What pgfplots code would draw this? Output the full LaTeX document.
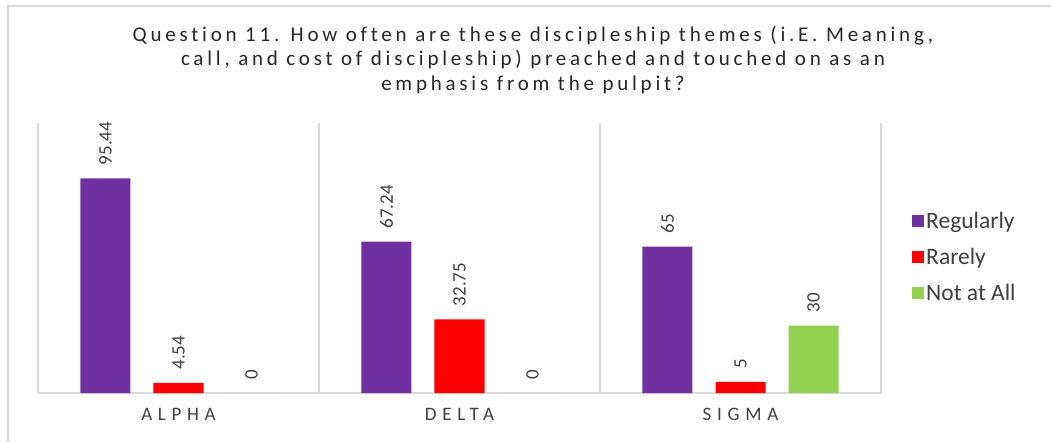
\documentclass[border=0pt]{standalone}
\usepackage{pgfplots}
\pgfplotsset{compat=1.18}
\usepackage{fontspec}
\setmainfont{Carlito}
\newfontfamily\titlefont{Carlito}[LetterSpace=18, Ligatures=NoCommon]
\newfontfamily\catfont{Carlito}[LetterSpace=30]
\definecolor{cpurple}{HTML}{7030A0}
\definecolor{cred}{HTML}{FF0000}
\definecolor{cgreen}{HTML}{92D050}
\definecolor{cgrid}{HTML}{D9D9D9}
\definecolor{ctext}{HTML}{404040}
\definecolor{ctitle}{HTML}{262626}
\pgfplotsset{sqlegend/.style={legend image code/.code={\draw[##1,draw=none] (0pt,-6pt) rectangle (12pt,6pt);}}}
\begin{document}
\begin{tikzpicture}[x=1pt,y=1pt]
\useasboundingbox (0,0) rectangle (1051,442);
\draw[cgrid, line width=2pt] (8,0) -- (8,436) -- (1051,436);
\node[font=\titlefont\fontsize{21}{24.5}\selectfont, text=ctitle, align=center] at (533,382) {Question 11. How often are these discipleship themes (i.E. Meaning,\\ call, and cost of discipleship) preached and touched on as an\\ emphasis from the pulpit?};
\begin{axis}[
  at={(38pt,49pt)}, anchor=south west,
  scale only axis, width=843pt, height=270pt,
  xmin=-0.5, xmax=2.5, ymin=0, ymax=120,
  axis x line=bottom, axis y line=none,
  x axis line style={cgrid, line width=1.5pt, -},
  xtick={0,1,2}, xticklabels={ALPHA,DELTA,SIGMA},
  minor xtick={-0.5,0.5,1.5,2.5}, xminorgrids,
  minor grid style={cgrid, line width=1.5pt},
  major tick length=0pt, minor tick length=0pt,
  xticklabel style={font=\catfont\fontsize{19}{19}\selectfont, text=ctext, yshift=-12pt},
  ytick=\empty,
  ybar, bar width=0.178,
  /pgf/number format/assume math mode=true,
  nodes near coords,
  nodes near coords style={rotate=90, anchor=west, inner xsep=13pt, font=\fontsize{19}{19}\selectfont, text=ctext},
  legend style={at={(1.0368,0.504)}, anchor=west, draw=none, fill=none,
    font=\fontsize{23.5}{27}\selectfont, text=ctext, row sep=14pt, inner sep=0pt,
    /tikz/every even column/.append style={column sep=7pt}},
  legend cell align=left,
]
\addplot[fill=cpurple, draw=none, bar shift=-0.26, sqlegend] coordinates {(0,95.44) (1,67.24) (2,65)};
\addplot[fill=cred, draw=none, bar shift=0, sqlegend] coordinates {(0,4.54) (1,32.75) (2,5)};
\addplot[fill=cgreen, draw=none, bar shift=0.26, sqlegend] coordinates {(0,0) (1,0) (2,30)};
\legend{Regularly, Rarely, Not at All}
\end{axis}
\end{tikzpicture}
\end{document}
